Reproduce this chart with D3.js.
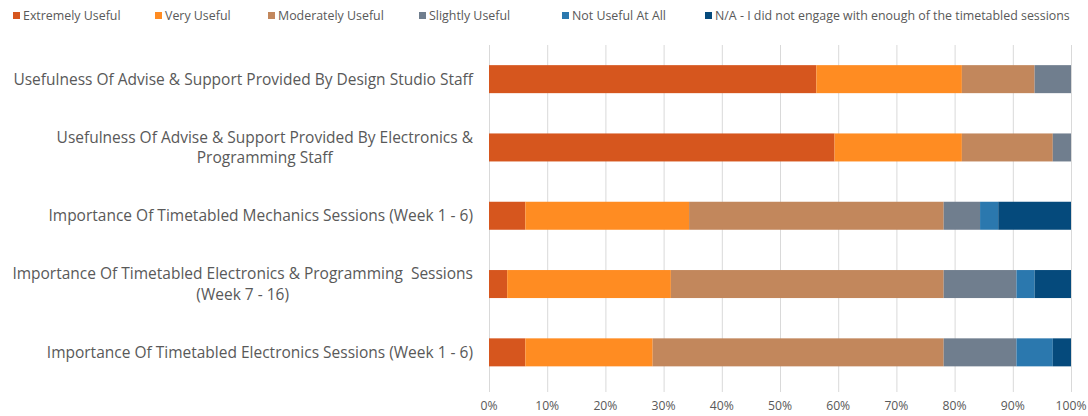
<!DOCTYPE html>
<html><head><meta charset="utf-8">
<script src="https://cdn.jsdelivr.net/npm/d3@7"></script>
<style>body{margin:0;background:#fff}svg{display:block}text{white-space:pre}</style>
</head><body><svg id="c" width="1088" height="416"></svg>
<script>
const categories = [
  ["Usefulness Of Advise & Support Provided By Design Studio Staff"],
  ["Usefulness Of Advise & Support Provided By Electronics &", "Programming Staff"],
  ["Importance Of Timetabled Mechanics Sessions (Week 1 - 6)"],
  ["Importance Of Timetabled Electronics & Programming  Sessions", "(Week 7 - 16)"],
  ["Importance Of Timetabled Electronics Sessions (Week 1 - 6)"]
];
const seriesNames = ["Extremely Useful","Very Useful","Moderately Useful","Slightly Useful","Not Useful At All","N/A - I did not engage with enough of the timetabled sessions"];
const colors = ["#d6561e","#ff8c22","#c2875c","#707e8e","#2b78ae","#054a7c"];
const extremely = [56.25, 59.375, 6.25, 3.125, 6.25];
const very      = [25, 21.875, 28.125, 28.125, 21.875];
const moderately= [12.5, 15.625, 43.75, 46.875, 50];
const slightly  = [6.25, 3.125, 6.25, 12.5, 12.5];
const notUseful = [0, 0, 3.125, 3.125, 6.25];
const na        = [0, 0, 12.5, 6.25, 3.125];
const tickValues = [0,10,20,30,40,50,60,70,80,90,100];
const legendX = [13, 155, 268, 419, 562, 705];

const series = [extremely, very, moderately, slightly, notUseful, na];
const svg = d3.select("#c");
const font = "'Open Sans', sans-serif";
const x = d3.scaleLinear().domain([0,100]).range([489,1071]);
const y = d3.scaleBand().domain(d3.range(categories.length)).range([45,386.5]).paddingInner(0.59).paddingOuter(0.295);

// grid
svg.append("g").selectAll("line").data(tickValues).join("line")
  .attr("x1",d=>x(d)+0.5).attr("x2",d=>x(d)+0.5).attr("y1",45).attr("y2",392)
  .attr("stroke","#d9d9d9").attr("stroke-width",1);

// bars
const rows = categories.map((c,i)=>{const o={};series.forEach((s,k)=>o[k]=s[i]);return o;});
const stack = d3.stack().keys(d3.range(series.length))(rows);
svg.append("g").selectAll("g").data(stack).join("g").attr("fill",(d,k)=>colors[k])
  .selectAll("rect").data(d=>d.map((v,i)=>({v,i}))).join("rect")
  .attr("x",d=>x(d.v[0])).attr("width",d=>x(d.v[1])-x(d.v[0]))
  .attr("y",d=>y(d.i)).attr("height",y.bandwidth());

// x labels
svg.append("g").selectAll("text").data(tickValues).join("text")
  .attr("x",d=>x(d)).attr("y",410).attr("text-anchor","middle")
  .attr("font-family",font).attr("font-size",12.2).attr("fill","#595959")
  .text(d=>d+"%");

// category labels
const lab = svg.append("g");
categories.forEach((lines,i)=>{
  const g = lab.append("g");
  const ts = lines.map(t=>g.append("text").attr("font-family",font).attr("font-size",15.5).attr("fill","#595959").text(t));
  const w = d3.max(ts,t=>t.node().getComputedTextLength());
  const cx = 473 - w/2;
  const cy = y(i)+y.bandwidth()/2;
  const lh = 20.5;
  ts.forEach((t,j)=>t.attr("x",cx).attr("text-anchor","middle")
    .attr("y",cy + (j-(lines.length-1)/2)*lh + 5.5));
});

// legend
const lg = svg.append("g");
seriesNames.forEach((n,k)=>{
  lg.append("rect").attr("x",legendX[k]).attr("y",12).attr("width",7).attr("height",7).attr("fill",colors[k]);
  lg.append("text").attr("x",legendX[k]+10).attr("y",20).attr("font-family",font).attr("font-size",12.4).attr("fill","#595959").text(n);
});
</script></body></html>
